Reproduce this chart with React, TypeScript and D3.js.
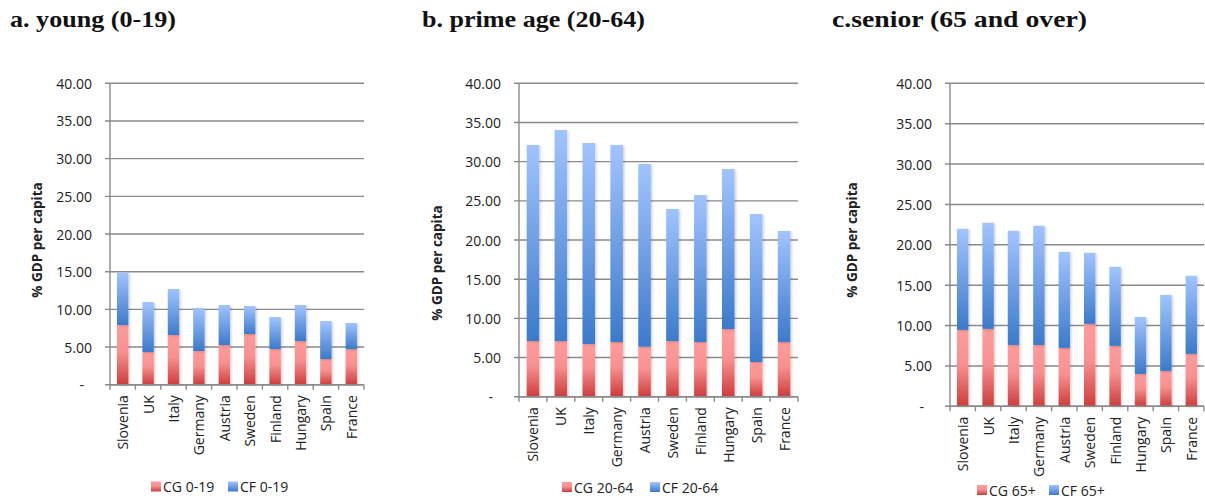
import React from "react";
import * as d3 from "d3";

// Countries in the order they appear on every panel
const countries = ["Slovenia", "UK", "Italy", "Germany", "Austria", "Sweden", "Finland", "Hungary", "Spain", "France"];

// Consumption by government (CG) and by families (CF), % of GDP per capita
const cgYoung = [7.92, 4.34, 6.59, 4.47, 5.27, 6.73, 4.73, 5.8, 3.41, 4.73];
const cfYoung = [6.95, 6.63, 6.11, 5.71, 5.31, 3.71, 4.25, 4.78, 5.04, 3.46];

const cgPrime = [7.11, 7.11, 6.72, 6.98, 6.38, 7.11, 6.98, 8.64, 4.43, 6.98];
const cfPrime = [25.02, 26.93, 25.66, 25.15, 23.32, 16.85, 18.76, 20.42, 18.89, 14.17];

const cgSenior = [9.46, 9.59, 7.6, 7.6, 7.23, 10.21, 7.48, 4.01, 4.38, 6.49];
const cfSenior = [12.52, 13.14, 14.14, 14.76, 11.9, 8.8, 9.79, 7.06, 9.42, 9.67];

const yTicks = [0, 5, 10, 15, 20, 25, 30, 35, 40];
const yAxisTitle = "% GDP per capita";

interface Panel {
  id: string;
  title: string;
  titleX: number;
  titleLen: number;
  cg: number[];
  cf: number[];
  legend: [string, string];
  legendX: [number, number];
  legendY: number;
  x0: number;
  x1: number;
  top: number;
  bottom: number;
  yTitle: [number, number];
}

const panels: Panel[] = [
  {
    id: "a", title: "a. young (0-19)", titleX: 10, titleLen: 166,
    cg: cgYoung, cf: cfYoung, legend: ["CG 0-19", "CF 0-19"],
    legendX: [151, 228], legendY: 486.5,
    x0: 110, x1: 364, top: 83.3, bottom: 384.7, yTitle: [37, 240],
  },
  {
    id: "b", title: "b. prime age (20-64)", titleX: 422, titleLen: 223,
    cg: cgPrime, cf: cfPrime, legend: ["CG 20-64", "CF 20-64"],
    legendX: [562, 650], legendY: 487,
    x0: 519, x1: 798, top: 83.3, bottom: 396.7, yTitle: [437, 263],
  },
  {
    id: "c", title: "c.senior (65 and over)", titleX: 832, titleLen: 255,
    cg: cgSenior, cf: cfSenior, legend: ["CG 65+", "CF 65+"],
    legendX: [977, 1049], legendY: 490,
    x0: 950, x1: 1204, top: 83.3, bottom: 406.3, yTitle: [852, 240],
  },
];

const FONT = "'Open Sans', 'Liberation Sans', sans-serif";
const GRID = "#8a8a8a";
const TEXT = "#222";

function ChartPanel({ p }: { p: Panel }) {
  const x = d3.scaleBand<string>().domain(countries).range([p.x0, p.x1]).paddingInner(0.55).paddingOuter(0.275);
  const y = d3.scaleLinear().domain([0, 40]).range([p.bottom, p.top]);
  const rows = countries.map((c, i) => ({ country: c, cg: p.cg[i], cf: p.cf[i] }));
  const stacked = d3.stack<{ country: string; cg: number; cf: number }>().keys(["cg", "cf"])(rows);
  const step = x.step();
  const boundaries = d3.range(countries.length + 1).map((i) => p.x0 + i * step);

  return (
    <g>
      <text
        x={p.titleX}
        y={27}
        fontFamily="'Liberation Serif', 'DejaVu Serif', serif"
        fontWeight="bold"
        fontSize={23}
        textLength={p.titleLen}
        lengthAdjust="spacingAndGlyphs"
        fill="#111"
      >
        {p.title}
      </text>

      {/* horizontal gridlines with left tick marks */}
      {yTicks.map((t) => (
        <g key={t}>
          <line x1={p.x0 - 5} x2={p.x1} y1={y(t)} y2={y(t)} stroke={GRID} strokeWidth={1.4} />
          <text
            x={t === 0 ? p.x0 - 26 : p.x0 - 18}
            y={y(t)}
            textAnchor="end"
            dominantBaseline="central"
            fontFamily={FONT}
            fontSize={14}
            fill={TEXT}
          >
            {t === 0 ? "-" : t.toFixed(2)}
          </text>
        </g>
      ))}

      {/* stacked bars */}
      {stacked.map((series) =>
        series.map((d, i) => (
          <rect
            key={series.key + i}
            x={x(countries[i])}
            y={y(d[1])}
            width={x.bandwidth()}
            height={y(d[0]) - y(d[1])}
            fill={`url(#grad-${series.key})`}
            filter="url(#barShadow)"
          />
        ))
      )}

      {/* axes */}
      <line x1={p.x0} x2={p.x0} y1={p.top} y2={p.bottom} stroke={GRID} strokeWidth={1.4} />
      <line x1={p.x0} x2={p.x1} y1={p.bottom} y2={p.bottom} stroke={GRID} strokeWidth={1.4} />
      {boundaries.map((bx, i) => (
        <line key={i} x1={bx} x2={bx} y1={p.bottom} y2={p.bottom + 5} stroke={GRID} strokeWidth={1.4} />
      ))}

      {/* category labels */}
      {countries.map((c) => (
        <text
          key={c}
          transform={`translate(${(x(c) ?? 0) + x.bandwidth() / 2},${p.bottom + 10.5}) rotate(-90)`}
          textAnchor="end"
          dominantBaseline="central"
          fontFamily={FONT}
          fontSize={14}
          fill={TEXT}
        >
          {c}
        </text>
      ))}

      {/* y axis title */}
      <text
        transform={`translate(${p.yTitle[0]},${p.yTitle[1]}) rotate(-90)`}
        textAnchor="middle"
        dominantBaseline="central"
        fontFamily={FONT}
        fontWeight="bold"
        fontSize={13.5}
        fill={TEXT}
      >
        {yAxisTitle}
      </text>

      {/* legend */}
      {p.legend.map((label, i) => (
        <g key={label}>
          <rect x={p.legendX[i]} y={p.legendY - 5} width={10} height={10} fill={`url(#grad-${i === 0 ? "cg" : "cf"})`} />
          <text
            x={p.legendX[i] + 12}
            y={p.legendY}
            dominantBaseline="central"
            fontFamily={FONT}
            fontSize={14}
            fill={TEXT}
          >
            {label}
          </text>
        </g>
      ))}
    </g>
  );
}

export default function App() {
  return (
    <svg width={1205} height={498} style={{ position: "absolute", left: 0, top: 0, background: "#fff" }}>
      <defs>
        <linearGradient id="grad-cg" x1="0" y1="0" x2="0" y2="1">
          <stop offset="0%" stopColor="#ff9c9c" />
          <stop offset="45%" stopColor="#f99090" />
          <stop offset="100%" stopColor="#cd3c3c" />
        </linearGradient>
        <linearGradient id="grad-cf" x1="0" y1="0" x2="0" y2="1">
          <stop offset="0%" stopColor="#a1c4ff" />
          <stop offset="100%" stopColor="#3b7acb" />
        </linearGradient>
        <filter id="barShadow" x="-30%" y="-5%" width="180%" height="115%">
          <feDropShadow dx="1.5" dy="1" stdDeviation="1.2" floodColor="#000" floodOpacity="0.18" />
        </filter>
      </defs>
      <rect width={1205} height={498} fill="#fff" />
      {panels.map((p) => (
        <ChartPanel key={p.id} p={p} />
      ))}
    </svg>
  );
}
